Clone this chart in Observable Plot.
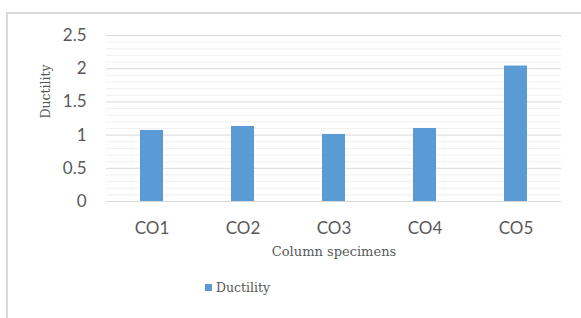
<!DOCTYPE html>
<html>
<head>
<meta charset="utf-8">
<script src="https://cdn.jsdelivr.net/npm/d3@7"></script>
<script src="https://cdn.jsdelivr.net/npm/@observablehq/plot@0.6"></script>
<style>
  html, body { margin: 0; padding: 0; background: #fff; }
  #wrap { position: relative; width: 581px; height: 318px; overflow: hidden; }
  #frame { position: absolute; left: 6px; top: 12px; width: 600px; height: 330px;
           border-top: 2px solid #d9d9d9; border-left: 2px solid #d9d9d9; box-sizing: border-box; }
  #chart { position: absolute; left: 0; top: 0; }
  #legend { position: absolute; left: 205px; top: 280px; font-family: "DejaVu Serif", serif;
            font-size: 12.5px; color: #595959; display: flex; align-items: center; }
  #legend .sw { width: 7px; height: 7px; background: #5B9BD5; margin-right: 4px; }
</style>
</head>
<body>
<div id="wrap">
  <div id="frame"></div>
  <div id="chart"></div>
  <div id="legend"><span class="sw"></span><span>Ductility</span></div>
</div>
<script>
const categories = ["CO1", "CO2", "CO3", "CO4", "CO5"];
const ductility = [1.07, 1.13, 1.01, 1.10, 2.04];
const majorTicks = [0, 0.5, 1, 1.5, 2, 2.5];
const minorTicks = [0.1, 0.2, 0.3, 0.4, 0.6, 0.7, 0.8, 0.9, 1.1, 1.2, 1.3, 1.4, 1.6, 1.7, 1.8, 1.9, 2.1, 2.2, 2.3, 2.4];
const xTitle = "Column specimens";
const yTitle = "Ductility";

const data = categories.map((c, i) => ({ cat: c, value: ductility[i] }));

const chart = Plot.plot({
  width: 581,
  height: 270,
  marginLeft: 106,
  marginRight: 20,
  marginTop: 35,
  marginBottom: 69,
  style: { background: "transparent", fontFamily: "Lato, sans-serif" },
  x: { domain: categories, padding: 0 },
  y: { domain: [0, 2.5] },
  marks: [
    Plot.ruleY(minorTicks, { stroke: "#f0f0f0", strokeWidth: 1 }),
    Plot.ruleY(majorTicks, { stroke: "#d9d9d9", strokeWidth: 1 }),
    Plot.barY(data, { x: "cat", y: "value", fill: "#5B9BD5", insetLeft: 34, insetRight: 34 }),
    Plot.axisY({ ticks: majorTicks, tickSize: 0, tickPadding: 20, tickFormat: d => String(d),
                 fontSize: 17, fill: "#595959", label: null }),
    Plot.axisX({ tickSize: 0, tickPadding: 20, fontSize: 17, fill: "#595959", label: null }),
    Plot.text([xTitle], { frameAnchor: "bottom", lineAnchor: "middle", dy: 50, fontSize: 13, fill: "#595959",
                          fontFamily: "DejaVu Serif, serif" }),
    Plot.text([yTitle], { frameAnchor: "left", dx: -61, rotate: -90, fontSize: 12.5, fill: "#595959",
                          fontFamily: "DejaVu Serif, serif" })
  ]
});
document.getElementById("chart").appendChild(chart);
</script>
</body>
</html>
